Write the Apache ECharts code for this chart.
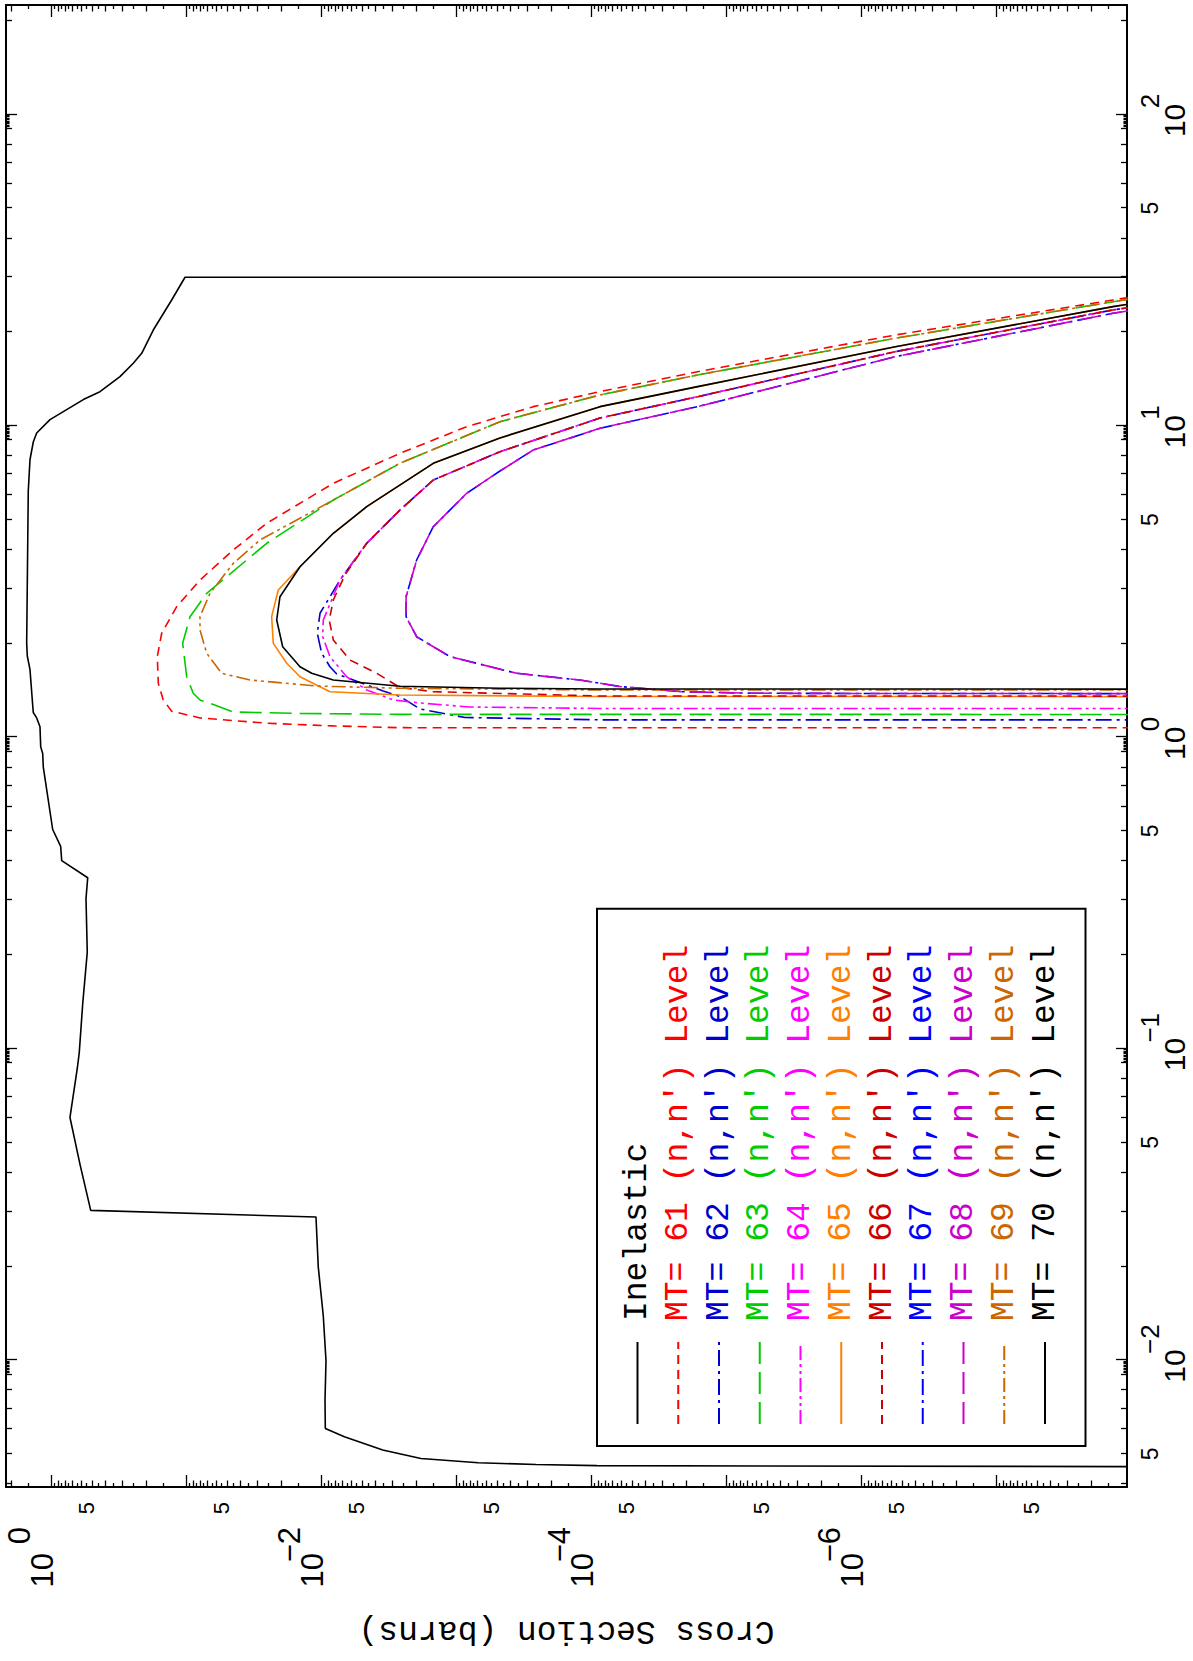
<!DOCTYPE html>
<html><head><meta charset="utf-8">
<script src="https://cdn.jsdelivr.net/npm/echarts@6/dist/echarts.min.js"></script>
<style>
html,body{margin:0;padding:0;width:1193px;height:1661px;overflow:hidden;background:#fff;}
#wrap{position:absolute;left:0;top:0;width:1661px;height:1193px;transform-origin:0 0;transform:translateY(1661px) rotate(-90deg);}
#chart{width:1661px;height:1193px;}
</style></head><body>
<div id="wrap"><div id="chart"></div></div>
<script>
// ---------------- data (energy in MeV, cross section in barns) ----------------
const energyRange = [3.911e-3, 224.5];
const xsRange = [1.083e-8, 2.18];

const energyDecadeLabels = [0.01, 0.1, 1, 10, 100];
const energyFiveLabels = [0.005, 0.05, 0.5, 5, 50];
const xsDecadeLabels = [1, 1e-2, 1e-4, 1e-6];
const xsFiveLabels = [5e-1, 5e-2, 5e-3, 5e-4, 5e-5, 5e-6, 5e-7, 5e-8];

const inelE = [0.00453,0.00458,0.00462,0.00468,0.00483,0.00514,0.00567,0.00603,0.00744,0.00995,0.01385,0.01989,0.02878,0.03025,0.04251,0.0601,0.0865,0.0970,0.1395,0.2040,0.3030,0.3538,0.4013,0.4459,0.5054,0.802,0.886,0.931,1.080,1.153,1.200,1.317,1.648,1.823,2.008,6.175,7.78,8.87,9.48,10.47,12.14,12.87,14.38,15.88,17.09,20.30,25.35,29.99,30.0];
const inelXS = [1e-10,9.14e-5,2.59e-4,6.91e-4,1.84e-3,3.53e-3,6.79e-3,9.40e-3,9.45e-3,9.29e-3,9.73e-3,0.0106,0.01102,0.514,0.617,0.732,0.646,0.625,0.589,0.545,0.557,0.541,0.843,0.858,0.983,1.154,1.166,1.206,1.221,1.292,1.369,1.392,1.448,1.516,1.532,1.491,1.448,1.369,1.292,1.029,0.583,0.439,0.312,0.2486,0.2154,0.1768,0.1292,0.1029,1e-10];

const mt61E = [1.072,1.073,1.087,1.109,1.153,1.212,1.317,1.490,1.814,2.157,2.625,3.197,3.993,4.863,6.538,8.159,9.934,11.52,12.87,14.92,19.57,25.35,28.11];
const mt61XS = [1e-10,2.63e-3,8.20e-3,0.02555,0.0797,0.1292,0.1491,0.1623,0.1651,0.1532,0.1186,0.0797,0.04516,0.02555,8.20e-3,2.63e-3,8.43e-4,2.71e-4,8.68e-5,1.64e-5,5.63e-7,1.376e-8,3.12e-9];

const mt62E = [1.136,1.137,1.157,1.232,1.352,1.408,1.526,1.596,1.684,1.860,2.157,2.500,3.197,4.195,5.365,6.697,8.256,10.59,12.40,17.30,23.55,25.92];
const mt62XS = [1e-10,8.68e-5,8.68e-4,1.87e-3,2.63e-3,3.50e-3,5.83e-3,7.74e-3,8.68e-3,0.01,0.01078,0.01029,7.32e-3,4.64e-3,2.63e-3,1.491e-3,4.78e-4,8.68e-5,1.64e-5,5.63e-7,1.376e-8,3.12e-9];

const mt63E = [1.183,1.184,1.192,1.205,1.274,1.317,1.384,1.564,2.002,2.438,2.898,3.276,4.195,5.776,7.578,10.31,12.56,14.56,19.10,25.03,27.70];
const mt63XS = [1e-10,2.63e-3,0.01448,0.04516,0.0635,0.0797,0.0894,0.1,0.1071,0.0945,0.0711,0.0505,0.02555,8.20e-3,2.63e-3,4.78e-4,8.68e-5,1.64e-5,5.63e-7,1.376e-8,3.12e-9];

const mt64E = [1.236,1.237,1.250,1.288,1.317,1.418,1.564,1.814,2.102,2.379,3.197,4.195,5.365,6.697,8.256,10.59,12.40,17.30,23.55,25.92];
const mt64XS = [1e-10,8.68e-5,7.97e-4,1.87e-3,2.95e-3,4.64e-3,6.53e-3,8.68e-3,9.83e-3,9.73e-3,7.32e-3,4.64e-3,2.63e-3,1.491e-3,4.78e-4,8.68e-5,1.64e-5,5.63e-7,1.376e-8,3.12e-9];

const mt65E = [1.350,1.351,1.366,1.400,1.564,1.727,2.002,2.438,2.970,3.527,4.516,5.498,7.578,9.138,11.52,13.36,17.95,24.13,26.70];
const mt65XS = [1e-10,8.68e-5,2.63e-3,8.68e-3,0.01448,0.01816,0.02283,0.02347,0.02097,0.01448,8.20e-3,4.64e-3,1.491e-3,4.78e-4,8.68e-5,1.64e-5,5.63e-7,1.376e-8,3.12e-9];

const mt66E = [1.355,1.356,1.400,1.444,1.604,1.769,2.051,2.379,2.758,3.318,4.195,5.365,6.697,8.256,10.59,12.40,17.30,23.55,25.92];
const mt66XS = [1e-10,8.68e-5,1.491e-3,2.63e-3,3.91e-3,6.17e-3,8.20e-3,8.79e-3,8.20e-3,6.72e-3,4.64e-3,2.63e-3,1.491e-3,4.78e-4,8.68e-5,1.64e-5,5.63e-7,1.376e-8,3.12e-9];

const mt67E = [1.380,1.381,1.384,1.400,1.453,1.526,1.604,1.814,2.102,2.438,2.826,3.707,4.742,6.071,7.157,8.360,9.817,11.52,16.67,22.98,25.35];
const mt67XS = [1e-10,5.20e-7,6.50e-6,2.11e-5,6.07e-5,1.221e-4,3.59e-4,1.121e-3,1.98e-3,2.37e-3,2.37e-3,1.98e-3,1.491e-3,8.43e-4,4.78e-4,2.71e-4,8.68e-5,1.64e-5,5.63e-7,1.376e-8,3.12e-9];

const mt68E = [1.380,1.381,1.384,1.400,1.453,1.526,1.604,1.814,2.102,2.438,2.826,3.707,4.742,6.071,7.157,8.360,9.817,11.52,16.67,22.98,25.35];
const mt68XS = [1e-10,5.20e-7,6.50e-6,2.11e-5,6.07e-5,1.221e-4,3.59e-4,1.121e-3,1.98e-3,2.37e-3,2.37e-3,1.98e-3,1.491e-3,8.43e-4,4.78e-4,2.71e-4,8.68e-5,1.64e-5,5.63e-7,1.376e-8,3.12e-9];

const mt69E = [1.417,1.418,1.436,1.460,1.526,1.604,1.860,2.209,2.438,2.898,3.618,4.298,5.776,7.578,10.31,12.56,14.56,19.10,25.03,27.70];
const mt69XS = [1e-10,8.68e-5,2.63e-3,0.01089,0.03397,0.0550,0.0711,0.0797,0.0797,0.0672,0.04516,0.02864,8.20e-3,2.63e-3,4.78e-4,8.68e-5,1.64e-5,5.63e-7,1.376e-8,3.12e-9];

const mt70E = [1.427,1.428,1.436,1.457,1.526,1.604,1.684,1.952,2.379,2.826,3.527,4.516,5.498,7.578,9.138,11.52,13.36,17.95,24.13,26.70];
const mt70XS = [1e-10,8.68e-5,4.78e-4,2.63e-3,8.20e-3,0.01186,0.01448,0.01945,0.02154,0.02037,0.01448,8.20e-3,4.64e-3,1.491e-3,4.78e-4,8.68e-5,1.64e-5,5.63e-7,1.376e-8,3.12e-9];

const seriesNames = ['Inelastic',"MT= 61 (n,n') Level","MT= 62 (n,n') Level","MT= 63 (n,n') Level","MT= 64 (n,n') Level","MT= 65 (n,n') Level","MT= 66 (n,n') Level","MT= 67 (n,n') Level","MT= 68 (n,n') Level","MT= 69 (n,n') Level","MT= 70 (n,n') Level"];
const seriesE = [inelE, mt61E, mt62E, mt63E, mt64E, mt65E, mt66E, mt67E, mt68E, mt69E, mt70E];
const seriesXS = [inelXS, mt61XS, mt62XS, mt63XS, mt64XS, mt65XS, mt66XS, mt67XS, mt68XS, mt69XS, mt70XS];

// ---------------- styles ----------------
const seriesColors = ['#000000','#ff0000','#0000cc','#00cc00','#ff00ff','#ff8000','#cc0000','#0000ff','#cc00cc','#cc6600','#000000'];
const seriesDash = ['solid',[9,6],[16,5,3,5],[22,8],[14,4,3,4,3,4],'solid',[9,6],[16,5,3,5],[22,8],[14,4,3,4,3,4],'solid'];

const L = v => Math.log10(v);
const exMin = L(energyRange[0]), exMax = L(energyRange[1]);
const sMin = L(xsRange[0]), sMax = L(xsRange[1]);

function gen(lo, hi, mults) {
  const out = [];
  for (let n = Math.floor(lo) - 1; n <= Math.ceil(hi) + 1; n++) {
    for (const m of mults) {
      const v = n + L(m);
      if (v >= lo - 1e-9 && v <= hi + 1e-9) out.push(v);
    }
  }
  return out;
}
const eDecT = gen(exMin, exMax, [1]);
const eIntT = gen(exMin, exMax, [2,3,4,5,6,7,8,9]);
const eFineT = gen(exMin, exMax, [9.1,9.2,9.3,9.4,9.5,9.6,9.7,9.8,9.9]);
const sDecT = gen(sMin, sMax, [1]);
const sIntT = gen(sMin, sMax, [2,3,4,5,6,7,8,9]);
const sHalfT = gen(sMin, sMax, [1.5,2.5,3.5,4.5,5.5,6.5,7.5,8.5,9.5]);

const supText = v => { const r = Math.round(v); return r < 0 ? '\u2212' + (-r) : String(r); };
const BLK = '#000';
const SANS = 'Liberation Sans';
const MONO = 'Liberation Mono';
const CLEAR = 'rgba(0,0,0,0)';

function axis(dim, pos, ticks, len, showLine, label, extra) {
  const a = {
    type: 'value', position: pos, gridIndex: 0, offset: 0,
    min: dim === 'x' ? exMin : sMin, max: dim === 'x' ? exMax : sMax,
    axisLine: { show: showLine, onZero: false, lineStyle: { color: BLK, width: 2 } },
    axisTick: { show: true, inside: true, length: len, customValues: ticks, lineStyle: { color: BLK, width: 1.3 } },
    axisLabel: label ? Object.assign({ show: true, color: BLK, fontFamily: SANS, hideOverlap: false }, label) : { show: false },
    splitLine: { show: false }
  };
  return Object.assign(a, extra || {});
}

const xAxes = [
  axis('x','bottom', eDecT, 11, true, { customValues: energyDecadeLabels.map(L), formatter: () => '10', margin: 36, fontSize: 30, lineHeight: 22, verticalAlign: 'top', align: 'center', padding: [0,12,0,0] }),
  axis('x','bottom', eIntT, 6, false, { customValues: energyFiveLabels.map(L), formatter: () => '5', margin: 15, fontSize: 23, lineHeight: 16, verticalAlign: 'top', align: 'center' }),
  axis('x','bottom', eFineT, 3.5, false, { customValues: energyDecadeLabels.map(L), formatter: supText, margin: 14, fontSize: 26, lineHeight: 17, verticalAlign: 'top', align: 'left', padding: [0,0,0,6] }),
  axis('x','top', eDecT, 11, true, null),
  axis('x','top', eIntT, 6, false, null),
  axis('x','top', eFineT, 3.5, false, null)
];
const yAxes = [
  axis('y','left', sDecT, 12, true, { customValues: xsDecadeLabels.map(L), formatter: () => '10', margin: 66, fontSize: 31, lineHeight: 19, verticalAlign: 'bottom', align: 'right' },
       { name: 'Cross Section (barns)', nameLocation: 'middle', nameGap: 127, nameRotate: 90, nameMoveOverlap: false,
         nameTextStyle: { fontFamily: MONO, fontSize: 33, color: BLK } }),
  axis('y','left', sIntT, 6.5, false, { customValues: xsFiveLabels.map(L), formatter: () => '5', margin: 15, fontSize: 22, lineHeight: 11, verticalAlign: 'bottom', align: 'right' }),
  axis('y','left', sHalfT, 4, false, { customValues: xsDecadeLabels.map(L), formatter: supText, margin: 40, fontSize: 31, lineHeight: 64, verticalAlign: 'bottom', align: 'right' }),
  axis('y','right', sDecT, 12, true, null),
  axis('y','right', sIntT, 6.5, false, null),
  axis('y','right', sHalfT, 4, false, null)
];

const series = seriesNames.map((name, i) => ({
  name, type: 'line', xAxisIndex: 0, yAxisIndex: 0,
  data: seriesE[i].map((e, k) => [L(e), L(seriesXS[i][k])]),
  symbol: 'none', showSymbol: false, clip: true, smooth: false,
  lineStyle: { color: seriesColors[i], width: 1.6, type: seriesDash[i] },
  itemStyle: { color: seriesColors[i] },
  emphasis: { disabled: true }, silent: true
}));

const chart = echarts.init(document.getElementById('chart'), null, { renderer: 'svg', width: 1661, height: 1193 });
chart.setOption({
  animation: false,
  backgroundColor: '#fff',
  grid: { left: 174, right: 5, top: 6, bottom: 66, containLabel: false, outerBoundsMode: 'none' },
  xAxis: xAxes,
  yAxis: yAxes,
  legend: {
    orient: 'vertical', left: 215, top: 597,
    padding: [24, 36, 24, 21],
    itemWidth: 82, itemHeight: 20, itemGap: 7.75,
    borderColor: BLK, borderWidth: 2,
    selectedMode: false,
    itemStyle: { color: CLEAR, borderColor: CLEAR, borderWidth: 0, opacity: 0 },
    textStyle: { fontFamily: MONO, fontSize: 33, padding: [0, 0, 0, 16] },
    data: seriesNames.map((n, i) => ({ name: n, textStyle: { color: seriesColors[i] },
      itemStyle: { color: CLEAR, borderColor: CLEAR, borderWidth: 0, opacity: 0 } }))
  },
  series
});
</script></body></html>
